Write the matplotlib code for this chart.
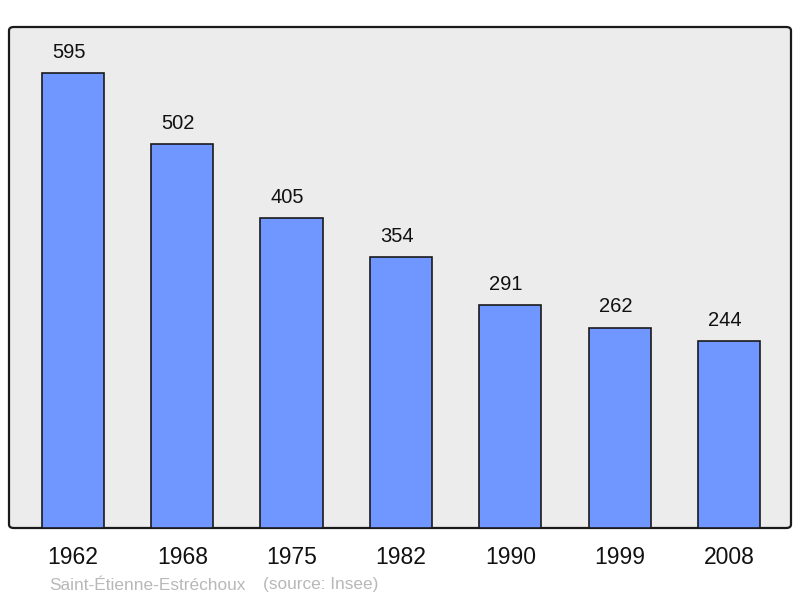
import matplotlib
matplotlib.use("Agg")
import matplotlib.pyplot as plt
from matplotlib.patches import FancyBboxPatch

years = ["1962", "1968", "1975", "1982", "1990", "1999", "2008"]
population = [595, 502, 405, 354, 291, 262, 244]
commune = "Saint-Étienne-Estréchoux"
source = "(source: Insee)"

plt.rcParams['font.family'] = ['Liberation Sans', 'DejaVu Sans']

fig = plt.figure(figsize=(8, 5.98), dpi=100)
ax = fig.add_axes([9 / 800, 70 / 598, 782 / 800, 501 / 598])
ax.patch.set_visible(False)
ax.set_zorder(1)

# rounded grey frame behind the plot
frame = FancyBboxPatch((9 / 800, 70 / 598), 782 / 800, 501 / 598,
                       boxstyle="round,pad=0,rounding_size=0.006",
                       transform=fig.transFigure, facecolor="#ececec",
                       edgecolor="#1a1a1a", linewidth=1.6, zorder=-1)
fig.patches.append(frame)

x = range(len(years))
ax.bar(x, population, width=0.57, color="#7096ff", edgecolor="#1a1a1a",
       linewidth=1.2, zorder=2)
for i, v in zip(x, population):
    ax.annotate(str(v), (i, v), xytext=(-3, 15), textcoords="offset points",
                ha="center", va="center", fontsize=14.5, color="#111111")

ax.set_xlim(-0.585, 6.567)
ax.set_ylim(0, 655)
ax.set_xticks([])
ax.set_yticks([])
for s in ax.spines.values():
    s.set_visible(False)

for i, yr in zip(x, years):
    ax.annotate(yr, (i, 0), xytext=(0, -21), textcoords="offset points",
                ha="center", va="center", fontsize=16.5, color="#111111",
                annotation_clip=False)

fig.text(49 / 800, 1 - 585 / 598, commune,
         fontsize=12.4, color="#b8b8b8", ha="left", va="center")
fig.text(263 / 800, 1 - 585 / 598, source,
         fontsize=12.4, color="#b8b8b8", ha="left", va="center")

fig.savefig("out.png", dpi=100)
